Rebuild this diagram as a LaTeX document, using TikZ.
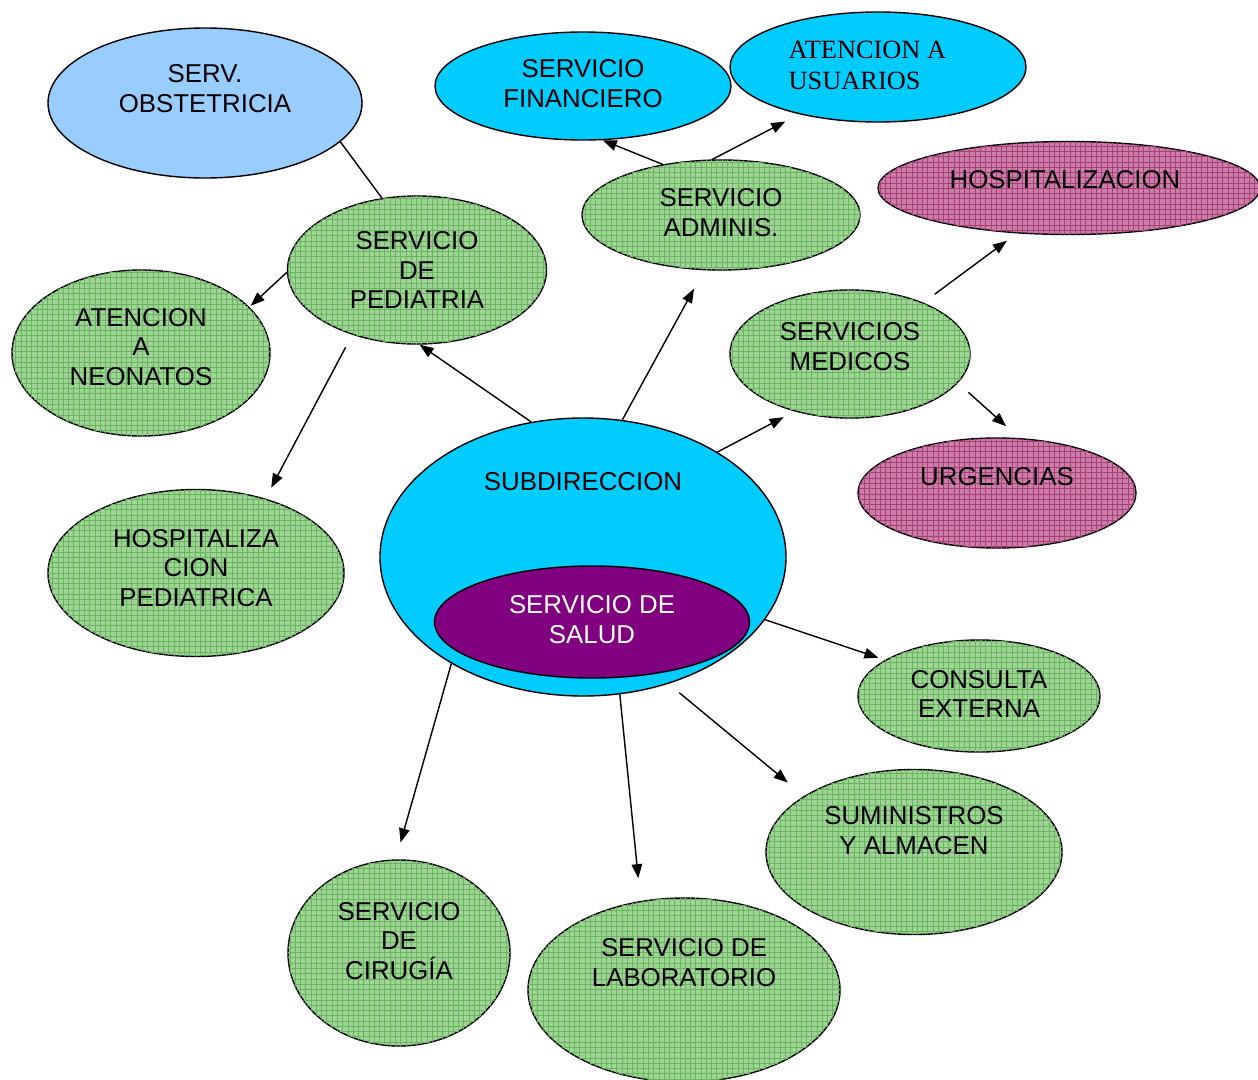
\documentclass[tikz,border=0pt]{standalone}
\usepackage{fontspec}
\setmainfont{Liberation Sans}
\newfontfamily\romana{Liberation Serif}
\usetikzlibrary{shapes.geometric}
\usetikzlibrary{arrows.meta}
\usetikzlibrary{patterns}

\definecolor{celeste}{RGB}{153,204,255}
\definecolor{cian}{RGB}{0,204,255}
\definecolor{morado}{RGB}{128,0,128}
\definecolor{verdefondo}{RGB}{160,212,150}
\definecolor{verdelinea}{RGB}{105,180,95}
\definecolor{rosafondo}{RGB}{205,125,170}
\definecolor{rosalinea}{RGB}{165,65,120}

\begin{document}
\begin{tikzpicture}[
            x = 0.02cm, y = -0.02cm, % one unit per pixel, y going down
            > = {Triangle[length=8pt,width=6pt]}, % arrow head style
            thick, % line style
            font = \fontsize{14.7}{17}\selectfont,
            every node/.style = {align = center}
        ]

        \tikzstyle{bubble}=[ellipse, draw = black, thick, inner sep = 0pt]
        \tikzstyle{verde}=[bubble, fill = verdefondo,
            postaction = {pattern = grid, pattern color = verdelinea}]
        \tikzstyle{rosa}=[bubble, fill = rosafondo,
            postaction = {pattern = grid, pattern color = rosalinea}]
        \tikzstyle{celeste}=[bubble, fill = celeste]
        \tikzstyle{cian}=[bubble, fill = cian]
        \tikzstyle{morado}=[bubble, fill = morado]
        \tikzset{dims/.style 2 args = {minimum width = #1*0.02cm, minimum height = #2*0.02cm}}

        \useasboundingbox (0,0) rectangle (1258,1079);

	% administrative side
        \node[celeste, dims={314}{150}] (obs) at (205,103) {};
        \node[cian, dims={296}{108}] (fin) at (583,86) {};
        \node[cian, dims={296}{110}] (usu) at (878,67) {};
        \node[verde, dims={278}{110}] (adm) at (721,215) {};

	% medical services
        \node[rosa, dims={382}{93}] (hos) at (1069,188) {};
        \node[verde, dims={259}{148}] (ped) at (417,270) {};
        \node[verde, dims={258}{166}] (neo) at (141,353) {};
        \node[verde, dims={240}{128}] (med) at (850,354) {};
        \node[rosa, dims={278}{110}] (urg) at (997,493) {};

	% centre
        \node[cian, dims={406}{278}] (sub) at (583,557) {};
        \node[morado, dims={315}{112}] (sal) at (592,622) {};

	% lower ring
        \node[verde, dims={296}{167}] (hped) at (196,573) {};
        \node[verde, dims={242}{112}] (con) at (979,696) {};
        \node[verde, dims={296}{165}] (sum) at (914,852) {};
        \node[verde, dims={222}{186}] (cir) at (399,953) {};
        \node[verde, dims={312}{184}] (lab) at (684,990) {};

	% labels
        \node (obs-t) at (205,89) {SERV.\\OBSTETRICIA};
        \node (fin-t) at (583,84) {SERVICIO\\FINANCIERO};
        \node[anchor = west, align = left, inner xsep = 0pt,
            font = \romana\fontsize{15}{17.6}\selectfont]
            (usu-t) at (788,65.5) {ATENCION A\\USUARIOS};
        \node (adm-t) at (721,213) {SERVICIO\\ADMINIS.};
        \node (hos-t) at (1065,180) {HOSPITALIZACION};
        \node (ped-t) at (417,270) {SERVICIO\\DE\\PEDIATRIA};
        \node (neo-t) at (141,347) {ATENCION\\A\\NEONATOS};
        \node (med-t) at (850,347) {SERVICIOS\\MEDICOS};
        \node (urg-t) at (997,477) {URGENCIAS};
        \node (sub-t) at (583,482) {SUBDIRECCION};
        \node[text = white] (sal-t) at (592,620) {SERVICIO DE\\SALUD};
        \node (hped-t) at (196,568) {HOSPITALIZA\\CION\\PEDIATRICA};
        \node (con-t) at (979,694) {CONSULTA\\EXTERNA};
        \node (sum-t) at (914,831) {SUMINISTROS\\Y ALMACEN};
        \node (cir-t) at (399,941) {SERVICIO\\DE\\CIRUGÍA};
        \node (lab-t) at (684,963) {SERVICIO DE\\LABORATORIO};

	% connections
        \path (obs.-16.5) edge (ped.116.3);
        \draw[->, shorten >=1pt] (ped.181) -- (neo.23);
        \draw[->, shorten <=8pt, shorten >=7pt] (ped.-135) -- (hped.47.5);
        \draw[->] (sub.111.6) -- (ped.-88.5);
        \draw[->, shorten >=12pt] (sub.74.9) -- (adm.-107);
        \draw[->] (adm.139.8) -- (fin.-70);
        \draw[->, shorten >=9pt] (adm.99.3) -- (usu.-149);
        \draw[->, shorten >=7pt] (sub.38.3) -- (med.-134);
        \draw[->, shorten <=8pt, shorten >=7pt] (med.35.9) -- (hos.-139.5);
        \draw[->, shorten <=8pt, shorten >=10pt] (med.-15.4) -- (urg.68.5);
        \draw[->, shorten >=4pt] (sub.-19.8) -- (con.159.4);
        \draw[->, shorten <=8pt, shorten >=12pt] (sub.-56.3) -- (sum.153);
        \draw[->, shorten >=13pt] (sub.-75) -- (lab.116.6);
        \draw[->, shorten >=10pt] (sub.-141) -- (cir.92);

\end{tikzpicture}
\end{document}
